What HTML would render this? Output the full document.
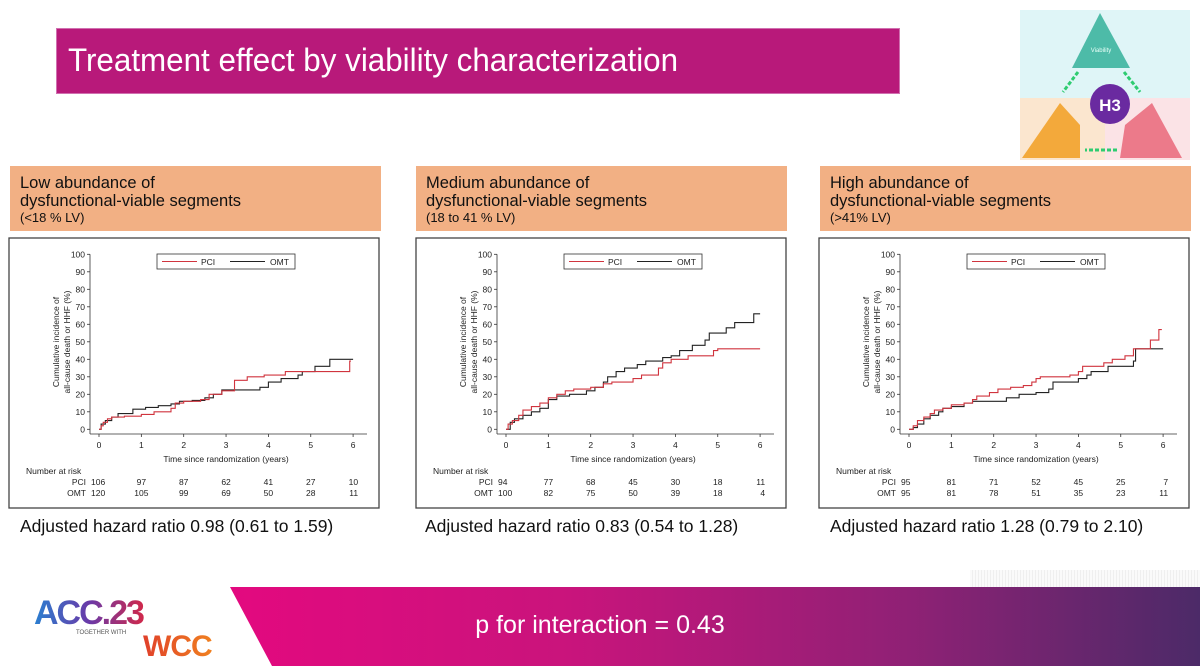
<!DOCTYPE html>
<html><head><meta charset="utf-8">
<style>
body{margin:0;width:1200px;height:666px;overflow:hidden;background:#fff;font-family:"Liberation Sans",sans-serif;position:relative}
.abs{position:absolute}
.hdr{position:absolute;top:166px;width:371px;height:65px;background:#f2b084;color:#111;box-sizing:border-box;padding:8px 0 0 10px}
.hdr .l{font-size:16.5px;line-height:18px}
.hdr .s{font-size:13px;line-height:15px}
.hr{position:absolute;top:516px;font-size:17.5px;color:#111}
</style></head>
<body>
<div class="abs" style="left:56px;top:28px;width:844px;height:66px;background:#b8197a;border:1px solid #d070b0;box-sizing:border-box"></div>
<div class="abs" style="left:68px;top:42px;color:#fff;font-size:32px;transform:scaleX(0.98);transform-origin:left">Treatment effect by viability characterization</div>

<div class="hdr" style="left:10px"><div class="l">Low abundance of<br>dysfunctional-viable segments</div><div class="s">(&lt;18 % LV)</div></div>
<div class="hdr" style="left:416px"><div class="l">Medium abundance of<br>dysfunctional-viable segments</div><div class="s">(18 to 41 % LV)</div></div>
<div class="hdr" style="left:820px"><div class="l">High abundance of<br>dysfunctional-viable segments</div><div class="s">(&gt;41%  LV)</div></div>

<div class="hr" style="left:20px">Adjusted hazard ratio 0.98 (0.61 to 1.59)</div>
<div class="hr" style="left:425px">Adjusted hazard ratio 0.83  (0.54 to 1.28)</div>
<div class="hr" style="left:830px">Adjusted hazard ratio 1.28  (0.79 to 2.10)</div>

<svg class="abs" style="left:0;top:0" width="1200" height="666" id="main">
<defs>
<linearGradient id="band" x1="0" x2="1" y1="0" y2="0">
<stop offset="0" stop-color="#e3097f"/><stop offset="0.35" stop-color="#c9147c"/><stop offset="0.7" stop-color="#8f2175"/><stop offset="1" stop-color="#4c2a68"/></linearGradient>
<linearGradient id="acc" x1="0" x2="1"><stop offset="0" stop-color="#2a7fd0"/><stop offset="0.5" stop-color="#6a3aa8"/><stop offset="1" stop-color="#d0284a"/></linearGradient>
<linearGradient id="wcc" x1="0" x2="1"><stop offset="0" stop-color="#e0402a"/><stop offset="1" stop-color="#f08020"/></linearGradient>
<pattern id="hatch" width="3" height="3" patternUnits="userSpaceOnUse"><rect width="3" height="3" fill="#fafafa"/><line x1="0" y1="0" x2="0" y2="3" stroke="#e4e4e4" stroke-width="1"/></pattern>
</defs>
<!-- footer -->
<rect x="970" y="570" width="230" height="18" fill="url(#hatch)"/>
<polygon points="230,587 1200,587 1200,666 272,666" fill="url(#band)"/>
<text x="600" y="633" fill="#fff" font-size="25" text-anchor="middle">p for interaction = 0.43</text>
<text x="34" y="624" font-size="34" font-weight="bold" fill="url(#acc)" letter-spacing="-2">ACC.23</text>
<text x="76" y="634" font-size="6" fill="#555">TOGETHER WITH</text>
<text x="143" y="656" font-size="30" font-weight="bold" fill="url(#wcc)" letter-spacing="-1">WCC</text>
<!-- H3 graphic -->
<g>
<rect x="1020" y="10" width="170" height="88" fill="#dff5f7"/>
<rect x="1020" y="98" width="85" height="62" fill="#fbe6cf"/>
<rect x="1105" y="98" width="85" height="62" fill="#fbe3e6"/>
<polygon points="1100,13 1130,68 1072,68" fill="#4dbba8"/>
<text x="1101" y="52" font-size="6" fill="#e8fff8" text-anchor="middle">Viability</text>
<polygon points="1060,103 1080,125 1080,158 1022,158" fill="#f3a93b"/>
<polygon points="1152,103 1182,158 1120,158 1125,125" fill="#ec7a8a"/>
<circle cx="1110" cy="104" r="20" fill="#6a2aa0"/>
<text x="1110" y="111" font-size="17" font-weight="bold" fill="#fff" text-anchor="middle">H3</text>
<line x1="1078" y1="72" x2="1063" y2="92" stroke="#2ecc71" stroke-width="3" stroke-dasharray="4 2"/>
<line x1="1124" y1="72" x2="1140" y2="92" stroke="#2ecc71" stroke-width="3" stroke-dasharray="4 2"/>
<line x1="1117" y1="150" x2="1085" y2="150" stroke="#2ecc71" stroke-width="3" stroke-dasharray="4 2"/>
</g>
</svg>

<script>
// ---- data ----
const tickYears = [0,1,2,3,4,5,6];
const yTicks = [0,10,20,30,40,50,60,70,80,90,100];
const lowPciT = [0,0.05,0.1,0.2,0.3,0.6,1.0,1.3,1.7,1.8,2.0,2.4,2.6,2.9,3.2,3.5,3.9,4.4,5.92,5.95];
const lowPciV = [0,2,4,6,7,7.5,8.5,10,12,15,16,17,20,22,28,30,31,33,39,39];
const lowOmtT = [0,0.05,0.15,0.3,0.45,0.8,1.1,1.4,1.7,1.9,2.2,2.5,2.7,2.9,3.8,4.0,4.3,4.7,4.8,5.1,5.45,6.0];
const lowOmtV = [0,3,5,7,9,11.5,12.5,13.5,14.5,16,16.5,18,20,22.5,24,27,29,31,33,36,40,40];
const medPciT = [0,0.05,0.15,0.3,0.4,0.6,0.8,1.0,1.2,1.4,1.6,2.0,2.3,2.5,3.0,3.2,3.6,3.7,3.9,4.3,4.9,5.0,6.0];
const medPciV = [0,3,5,8,11,13,15,18,20,22,23,24,26,27,29,31,35,38,40,42,45,46,46];
const medOmtT = [0,0.1,0.2,0.4,0.6,0.8,1.0,1.2,1.5,1.9,2.1,2.3,2.4,2.6,2.8,3.1,3.3,3.7,3.9,4.1,4.4,4.7,4.8,5.2,5.4,5.85,6.0];
const medOmtV = [0,4,6,8,10,12,17,19,20,22,24,27,30,33,35,37,39,41,42,45,48,51,55,58,61,66,66];
const highPciT = [0,0.1,0.2,0.35,0.5,0.6,0.8,1.0,1.3,1.5,1.6,1.9,2.1,2.4,2.7,2.9,3.0,3.1,3.8,4.0,4.1,4.6,4.8,5.1,5.3,5.7,5.9,5.97];
const highPciV = [0,2,5,7,9,11,12,14,15,17,19,21,23,24,25,27,29,30,31,33,36,38,40,42,46,51,57,57];
const highOmtT = [0,0.1,0.2,0.35,0.5,0.7,0.8,1.0,1.3,1.5,2.3,2.6,3.0,3.3,3.4,4.0,4.2,4.3,4.7,5.3,5.35,6.0];
const highOmtV = [0,1,3,6,8,10,12,13,15,16,18,20,21,23,27,29,31,33,36,39,46,46];
const lowRiskPci = [106,97,87,62,41,27,10];
const lowRiskOmt = [120,105,99,69,50,28,11];
const medRiskPci = [94,77,68,45,30,18,11];
const medRiskOmt = [100,82,75,50,39,18,4];
const highRiskPci = [95,81,71,52,45,25,7];
const highRiskOmt = [95,81,78,51,35,23,11];

const NS='http://www.w3.org/2000/svg';
const svg=document.getElementById('main');
function mk(tag,attrs,parent){const e=document.createElementNS(NS,tag);for(const k in attrs)e.setAttribute(k,attrs[k]);(parent||svg).appendChild(e);return e;}
function txt(x,y,s,size,anchor,parent){const e=mk('text',{x:x,y:y,'font-size':size,'text-anchor':anchor||'start',fill:'#222'},parent);e.textContent=s;return e;}

function chart(L,key,pT,pV,oT,oV,rP,rO){
  const g=mk('g',{});
  
  
  const X=t=>L+90+t*42.35, Y=v=>429.3-v*1.75;
  const box=mk('rect',{x:L,y:238,width:370,height:270,fill:'#fff',stroke:'#444','stroke-width':1.3},g);
  
  
  mk('line',{x1:L+81,y1:Y(100),x2:L+81,y2:434,stroke:'#333','stroke-width':0.8},g);
  mk('line',{x1:L+81,y1:434,x2:L+358,y2:434,stroke:'#333','stroke-width':0.8},g);
  yTicks.forEach(v=>{mk('line',{x1:L+78,y1:Y(v),x2:L+81,y2:Y(v),stroke:'#333','stroke-width':0.8},g);txt(L+76,Y(v)+3,String(v),8.5,'end',g);});
  tickYears.forEach(t=>{mk('line',{x1:X(t),y1:434,x2:X(t),y2:437,stroke:'#333','stroke-width':0.8},g);txt(X(t),448,String(t),8.5,'middle',g);});
  txt((X(0)+X(6))/2,462,'Time since randomization (years)',8.5,'middle',g);
  const yt=mk('g',{transform:`translate(${L+50},342) rotate(-90)`},g);
  
  
  txt(0,0,'Cumulative incidence of',8.5,'middle',yt);
  txt(0,11,'all-cause death or HHF (%)',8.5,'middle',yt);
  const lg=mk('g',{},g);
  
  
  mk('rect',{x:L+148,y:254,width:138,height:15,fill:'#fff',stroke:'#333','stroke-width':0.8},lg);
  mk('line',{x1:L+153,y1:261.5,x2:L+188,y2:261.5,stroke:'#d0343e','stroke-width':1},lg);
  txt(L+192,265,'PCI',8.5,'start',lg);
  mk('line',{x1:L+221,y1:261.5,x2:L+256,y2:261.5,stroke:'#222','stroke-width':1},lg);
  txt(L+261,265,'OMT',8.5,'start',lg);
  function step(T,V,color,name){let d=`M${X(T[0])},${Y(V[0])}`;for(let i=1;i<T.length;i++){d+=`H${X(T[i])}V${Y(V[i])}`;}
    const p=mk('path',{d:d,fill:'none',stroke:color,'stroke-width':1.1},g);
    
    }
  step(oT,oV,'#222',key+'-omt-line');
  step(pT,pV,'#d0343e',key+'-pci-line');
  txt(L+17,474,'Number at risk',8.5,'start',g);
  txt(L+77,485,'PCI',8.5,'end',g);
  txt(L+77,496,'OMT',8.5,'end',g);
  tickYears.forEach((t,i)=>{const a=i==0?'start':(i==6?'end':'middle');const x=i==0?L+82:(i==6?X(6)+5:X(t));
    txt(x,485,String(rP[i]),8.5,a,g);txt(x,496,String(rO[i]),8.5,a,g);});
}
chart(9,'low',lowPciT,lowPciV,lowOmtT,lowOmtV,lowRiskPci,lowRiskOmt);
chart(416,'medium',medPciT,medPciV,medOmtT,medOmtV,medRiskPci,medRiskOmt);
chart(819,'high',highPciT,highPciV,highOmtT,highOmtV,highRiskPci,highRiskOmt);
</script>
</body></html>
